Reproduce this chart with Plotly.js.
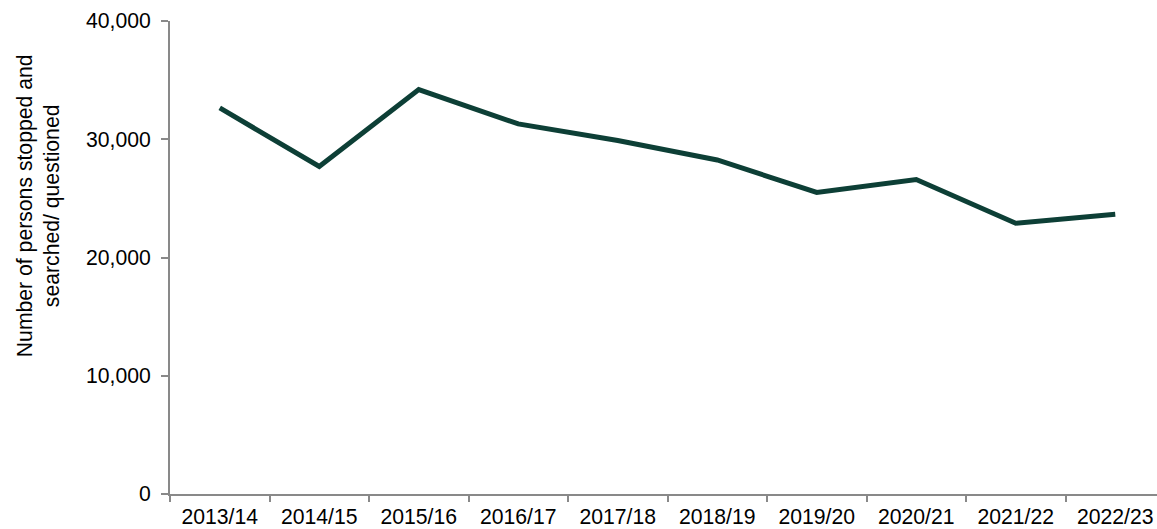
<!DOCTYPE html>
<html>
<head>
<meta charset="utf-8">
<script src="https://cdn.plot.ly/plotly-3.0.1.min.js"></script>
<style>
html, body { margin: 0; padding: 0; overflow: hidden; background: #ffffff; }
#chart { width: 1165px; height: 529px; }
</style>
</head>
<body>
<div id="chart"></div>
<script>
const years = ["2013/14","2014/15","2015/16","2016/17","2017/18","2018/19","2019/20","2020/21","2021/22","2022/23"];
const persons = [32650, 27700, 34200, 31300, 29900, 28250, 25500, 26600, 22900, 23650];
const yTickValues = [0, 10000, 20000, 30000, 40000];
const yTickLabels = ["0", "10,000", "20,000", "30,000", "40,000"];
const yTitle = "Number of persons stopped and<br>searched/ questioned";

const fontFamily = "'Liberation Sans', Arial, sans-serif";
const axisColor = "#898989";
const fs = 21.2;

const trace = {
  type: "scatter",
  mode: "lines",
  x: years,
  y: persons,
  line: { color: "#0d3f36", width: 5 },
  hoverinfo: "x+y"
};

const layout = {
  width: 1165,
  height: 529,
  margin: { l: 170, r: 0, t: 20.7, b: 35 },
  paper_bgcolor: "#ffffff",
  plot_bgcolor: "#ffffff",
  showlegend: false,
  font: { family: fontFamily, size: fs, color: "#000000" },
  xaxis: {
    type: "category",
    range: [-0.5, years.length - 0.5],
    showgrid: false,
    zeroline: false,
    showline: true,
    linecolor: axisColor,
    linewidth: 2,
    ticks: "outside",
    tickson: "boundaries",
    ticklen: 6,
    tickwidth: 2,
    tickcolor: axisColor,
    ticklabelstandoff: 3,
    tickfont: { family: fontFamily, size: fs, color: "#000000" }
  },
  yaxis: {
    range: [0, 40000],
    showgrid: false,
    zeroline: false,
    showline: true,
    linecolor: axisColor,
    linewidth: 2,
    ticks: "outside",
    ticklen: 7,
    tickwidth: 2,
    tickcolor: axisColor,
    ticklabelstandoff: 6,
    tickmode: "array",
    tickvals: yTickValues,
    ticktext: yTickLabels,
    tickfont: { family: fontFamily, size: fs, color: "#000000" }
  },
  annotations: [{
    text: yTitle,
    xref: "paper",
    yref: "paper",
    x: (39 - 170) / 995,
    y: (494 - 206) / 473.3,
    xanchor: "center",
    yanchor: "middle",
    textangle: -90,
    showarrow: false,
    font: { family: fontFamily, size: fs, color: "#000000" }
  }]
};

Plotly.newPlot("chart", [trace], layout, { displayModeBar: false, staticPlot: true });
</script>
</body>
</html>
